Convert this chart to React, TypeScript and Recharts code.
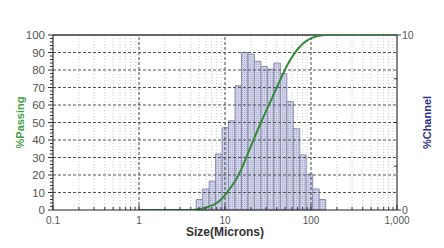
import React from 'react';
import {
  ComposedChart,
  Line,
  XAxis,
  YAxis,
  ReferenceLine,
  ReferenceArea,
} from 'recharts';

// Channel bin edges (microns) and % in each channel (right axis)
const binEdges = [4.625, 5.5, 6.541, 7.778, 9.25, 11, 13.08, 15.56, 18.5, 22, 26.16, 31.11, 37, 44, 52.33, 62.23, 74, 88, 104.7, 124.5, 148];
const channelPct = [0.6, 1.2, 1.65, 3.2, 4.7, 5.1, 7.1, 9.0, 8.9, 8.5, 8.2, 8.05, 8.4, 7.8, 6.2, 4.65, 3.15, 2.05, 1.2, 0.6];

// Cumulative % passing curve (left axis)
const passSizes = [0.972, 3.889, 4.625, 5.5, 6.541, 7.778, 9.25, 11, 13.08, 15.56, 18.5, 22, 26.16, 31.11, 37, 44, 52.33, 62.23, 74, 88, 104.7, 124.5, 148, 176, 1000];
const passPct = [0, 0, 0.3, 0.9, 2.0, 3.6, 6.6, 11.2, 16.4, 23.5, 32.4, 41.4, 50.0, 58.2, 66.2, 74.5, 82.3, 88.5, 93.3, 96.5, 98.5, 99.6, 100, 100, 100];

// Axis ticks
const xMajorTicks = [0.1, 1, 10, 100, 1000];
const xMajorLabels = ['0.1', '1', '10', '100', '1,000'];
const xMinorTicks = [0.2, 0.3, 0.4, 0.5, 0.6, 0.7, 0.8, 0.9, 2, 3, 4, 5, 6, 7, 8, 9, 20, 30, 40, 50, 60, 70, 80, 90, 200, 300, 400, 500, 600, 700, 800, 900];
const leftTicks = [0, 2, 4, 6, 8, 10, 12, 14, 16, 18, 20, 22, 24, 26, 28, 30, 32, 34, 36, 38, 40, 42, 44, 46, 48, 50, 52, 54, 56, 58, 60, 62, 64, 66, 68, 70, 72, 74, 76, 78, 80, 82, 84, 86, 88, 90, 92, 94, 96, 98, 100];
const leftMajorTicks = [0, 10, 20, 30, 40, 50, 60, 70, 80, 90, 100];
const hGridValues = [10, 20, 30, 40, 50, 60, 70, 80, 90];
const rightTicks = [0, 2.5, 5, 7.5, 10];
const rightLabeled = [0, 10];

const data = passSizes.map((s, i) => ({ size: s, passing: passPct[i] }));
const allXTicks = [...xMajorTicks, ...xMinorTicks].sort((a, b) => a - b);

const FONT = '"Liberation Sans", Arial, sans-serif';

const XTick = (props: any) => {
  const { x, y, payload } = props;
  const v = payload.value;
  const idx = xMajorTicks.indexOf(v);
  const axisY = y - 8;
  return (
    <g>
      <line x1={x} x2={x} y1={axisY} y2={axisY - (idx >= 0 ? 5 : 3)} stroke="#333" strokeWidth={1} />
      {idx >= 0 && (
        <text x={x} y={y + 6} textAnchor="middle" fontSize={10} fontFamily={FONT} fill="#555">
          {xMajorLabels[idx]}
        </text>
      )}
    </g>
  );
};

const LeftTick = (props: any) => {
  const { x, y, payload } = props;
  const v = payload.value;
  const major = leftMajorTicks.includes(v);
  return (
    <g>
      <line x1={x + (major ? 3 : 5)} x2={x + 8} y1={y} y2={y} stroke="#333" strokeWidth={1} />
      {major && (
        <text x={x} y={y + 4} textAnchor="end" fontSize={11.5} fontFamily={FONT} fill="#555">
          {v}
        </text>
      )}
    </g>
  );
};

const RightTick = (props: any) => {
  const { x, y, payload } = props;
  const v = payload.value;
  const major = rightLabeled.includes(v);
  const axisX = x - 5;
  return (
    <g>
      {major ? (
        <line x1={axisX} x2={axisX + 4} y1={y} y2={y} stroke="#333" strokeWidth={1} />
      ) : (
        <line x1={axisX - 3} x2={axisX} y1={y} y2={y} stroke="#333" strokeWidth={1} />
      )}
      {major && (
        <text x={x} y={y + 4} textAnchor="start" fontSize={10.5} fontFamily={FONT} fill="#555">
          {v}
        </text>
      )}
    </g>
  );
};

export default function App() {
  return (
    <div style={{ margin: -8, width: 444, height: 248, background: '#fff' }}>
      <svg width={0} height={0} style={{ position: 'absolute' }}>
        <defs>
          <pattern id="dots" width="2" height="2" patternUnits="userSpaceOnUse">
            <rect x="0" y="0" width="2" height="2" fill="#d2d4ea" />
            <rect x="0" y="0" width="1" height="1" fill="#abadcf" />
          </pattern>
        </defs>
      </svg>
      <ComposedChart
        width={444}
        height={248}
        data={data}
        margin={{ top: 35, right: 0, bottom: 0, left: 0 }}
        style={{ fontFamily: FONT }}
      >
        <XAxis
          dataKey="size"
          type="number"
          scale="log"
          domain={[0.1, 1000]}
          allowDataOverflow
          ticks={allXTicks}
          interval={0}
          tick={<XTick />}
          tickLine={false}
          tickSize={4}
          tickMargin={4}
          height={38}
          axisLine={{ stroke: '#222', strokeWidth: 1.2 }}
          label={{
            value: 'Size(Microns)',
            position: 'insideBottom',
            offset: 12,
            style: { fontSize: 12, fontWeight: 'bold', fill: '#333', fontFamily: FONT },
          }}
        />
        <YAxis
          yAxisId="left"
          orientation="left"
          type="number"
          domain={[0, 100]}
          allowDataOverflow
          ticks={leftTicks}
          interval={0}
          width={53}
          tick={<LeftTick />}
          tickLine={false}
          tickSize={5}
          tickMargin={3}
          axisLine={{ stroke: '#333', strokeWidth: 1.2 }}
          label={{
            value: '%Passing',
            angle: -90,
            position: 'insideLeft',
            offset: 20,
            style: { textAnchor: 'middle', fontSize: 11, fontWeight: 'bold', fill: '#45a045', fontFamily: FONT },
          }}
        />
        <YAxis
          yAxisId="right"
          orientation="right"
          type="number"
          domain={[0, 10]}
          allowDataOverflow
          ticks={rightTicks}
          interval={0}
          width={47}
          tick={<RightTick />}
          tickLine={false}
          tickSize={4}
          tickMargin={1}
          axisLine={{ stroke: '#333', strokeWidth: 1.2 }}
          label={{
            value: '%Channel',
            angle: -90,
            position: 'insideRight',
            offset: 17,
            style: { textAnchor: 'middle', fontSize: 11, fontWeight: 'bold', fill: '#2b2b86', fontFamily: FONT },
          }}
        />
        {xMinorTicks.map((v) => (
          <ReferenceLine key={'vm' + v} x={v} yAxisId="left" stroke="#c8c8c8" strokeDasharray="1 2" strokeWidth={1} />
        ))}
        {[1, 10, 100].map((v) => (
          <ReferenceLine key={'vM' + v} x={v} yAxisId="left" stroke="#444" strokeDasharray="3 2" strokeWidth={1} />
        ))}
        {hGridValues.map((v) => (
          <ReferenceLine key={'h' + v} y={v} yAxisId="left" stroke="#555" strokeDasharray="3 2" strokeWidth={1} />
        ))}
        <ReferenceLine y={100} yAxisId="left" stroke="#333" strokeWidth={1.5} />
        {channelPct.map((v, i) => (
          <ReferenceArea
            key={'b' + i}
            x1={binEdges[i]}
            x2={binEdges[i + 1]}
            y1={0}
            y2={v}
            yAxisId="right"
            fill="url(#dots)"
            fillOpacity={1}
            stroke="#8a8db2"
            strokeWidth={1}
          />
        ))}
        <Line
          yAxisId="left"
          dataKey="passing"
          type="monotone"
          stroke="#348a3a"
          strokeWidth={2}
          dot={false}
          isAnimationActive={false}
        />
      </ComposedChart>
    </div>
  );
}
